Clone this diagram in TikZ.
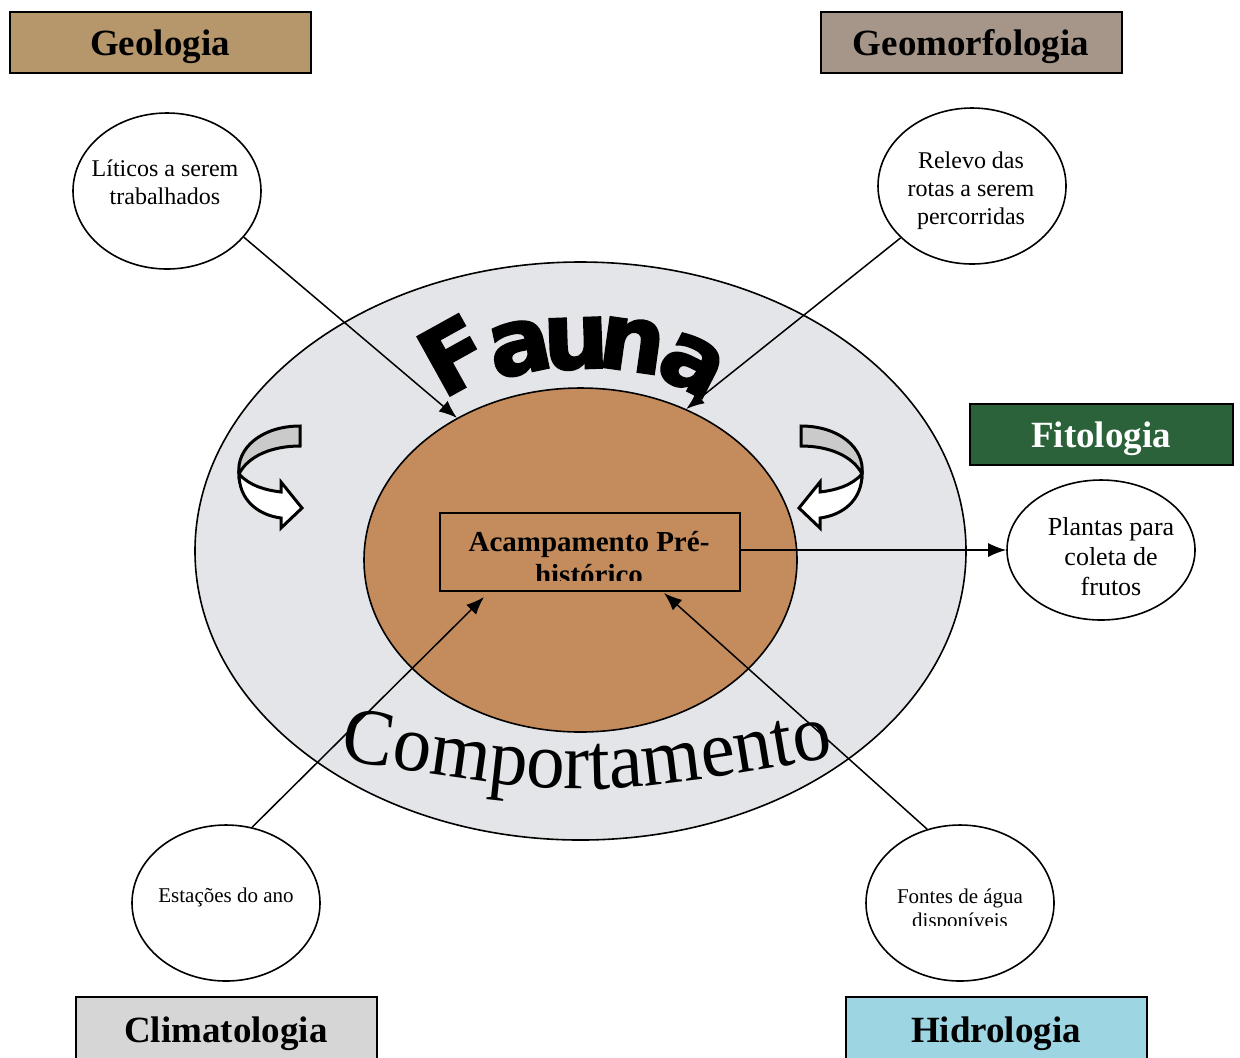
\documentclass[tikz,border=0pt]{standalone}
\usepackage{fontspec}
\setmainfont{Liberation Serif}
\newfontfamily\faunafont[FakeBold=2.5]{DejaVu Sans}
\newfontfamily\compfont[FakeStretch=0.96]{Liberation Serif}
\usetikzlibrary{shapes.geometric,arrows.meta,decorations.text}
\definecolor{marble}{HTML}{E4E5E8}
\definecolor{cork}{HTML}{C48B5C}
\definecolor{geocol}{HTML}{B6976B}
\definecolor{geomcol}{HTML}{A59689}
\definecolor{fitocol}{HTML}{2C6239}
\definecolor{climcol}{HTML}{D6D6D6}
\definecolor{hidrocol}{HTML}{9DD5E2}
\definecolor{curvgray}{HTML}{CACACA}
\tikzset{
  bubble/.style={ellipse, draw, line width=0.8pt, fill=white, minimum width=94pt, minimum height=78pt, inner sep=0pt},
  titlebox/.style={draw, line width=1pt, minimum width=150.5pt, minimum height=30.5pt, inner sep=0pt},
  titletext/.style={inner sep=0pt, font=\bfseries\fontsize{18.5}{20}\selectfont},
  btext/.style={align=center, inner sep=0pt},
  conn/.style={line width=0.75pt, -{Latex[length=9pt,width=7pt]}},
  uarrow/.style={line width=1.5pt, line join=miter},
  fauna/.style={inner sep=0pt, font=\faunafont\bfseries\fontsize{46}{46}\selectfont}
}
\begin{document}
\begin{tikzpicture}[x=0.5pt,y=-0.5pt]
\clip (0,0) rectangle (1240,1057);
\fill[white] (0,0) rectangle (1240,1057);

% ellipses
\node[ellipse, draw, line width=0.8pt, fill=marble, minimum width=385.5pt, minimum height=289pt, inner sep=0pt] (outer) at (580.5,551) {};
\node[ellipse, draw, line width=0.8pt, fill=cork, minimum width=216.5pt, minimum height=172pt, inner sep=0pt] (camp) at (580.5,560) {};

% Fauna
\node[fauna, rotate=29] (f1) at (454,355) {F};
\node[fauna, rotate=12] (f2) at (520,348) {a};
\node[fauna, rotate=2] (f3) at (576,344) {u};
\node[fauna, rotate=-8] (f4) at (632,345) {n};
\node[fauna, rotate=-27] (f5) at (692,365) {a};

% Comportamento
\path[decorate, decoration={text along path, text={|\compfont\fontsize{40}{40}\selectfont|Comportamento}, text align=center}]
  (326,757) .. controls (587,800) .. (848,755);

% curved arrows (left)
\filldraw[uarrow, fill=curvgray] (300,426) -- (300,446) .. controls (272,446) and (248,456) .. (239,474)
   .. controls (236,448) and (262,426) .. (300,426) -- cycle;
\filldraw[uarrow, fill=white] (239,474) .. controls (250,486) and (265,490) .. (281,492) -- (281,482) -- (302,508)
   -- (281,528) -- (281,518) .. controls (258,515) and (239,500) .. (239,474) -- cycle;
% curved arrows (right, mirrored)
\begin{scope}[shift={(1101,0)}, xscale=-1]
\filldraw[uarrow, fill=curvgray] (300,426) -- (300,446) .. controls (272,446) and (248,456) .. (239,474)
   .. controls (236,448) and (262,426) .. (300,426) -- cycle;
\filldraw[uarrow, fill=white] (239,474) .. controls (250,486) and (265,490) .. (281,492) -- (281,482) -- (302,508)
   -- (281,528) -- (281,518) .. controls (258,515) and (239,500) .. (239,474) -- cycle;
\end{scope}

% central rectangle
\node[draw, line width=0.75pt, minimum width=150pt, minimum height=39pt, inner sep=0pt] (acamp) at (590,552) {};
\begin{scope}
\clip (441,514) rectangle (739,580);
\node[btext, font=\bfseries\fontsize{14.5}{16.5}\selectfont] (acampT) at (589,558) {Acampamento Pré-\\histórico};
\end{scope}

% bubbles
\node[bubble] (lit) at (167,191) {};
\node[btext, font=\fontsize{12}{14}\selectfont] (litT) at (165,182) {Líticos a serem\\trabalhados};
\node[bubble] (rel) at (972,186) {};
\node[btext, font=\fontsize{12}{14}\selectfont] (relT) at (971,191) {Relevo das\\rotas a serem\\percorridas};
\node[bubble, minimum height=70pt] (plantas) at (1101,550) {};
\node[btext, font=\fontsize{13}{15}\selectfont] (plantasT) at (1111,557) {Plantas para\\coleta de\\frutos};
\node[bubble] (est) at (226,903) {};
\node[btext, font=\fontsize{10.5}{12}\selectfont] (estT) at (226,897) {Estações do ano};
\node[bubble] (fon) at (960,903) {};
\begin{scope}
\clip (866,826) rectangle (1054,925);
\node[btext, font=\fontsize{10.5}{12}\selectfont] (fonT) at (960,910) {Fontes de água\\disponíveis};
\end{scope}

% connectors
\coordinate (e4) at (484,597);
\coordinate (e5) at (664,593);
\draw[conn] (lit.-31) -- (camp.131.5);
\draw[conn] (rel.216) -- (camp.55);
\draw[conn] (acamp.east |- plantas.west) -- (plantas.west);
\draw[conn] (est.71) -- (e4);
\draw[conn] (fon.114) -- (e5);

% title boxes
\node[titlebox, fill=geocol] (geo) at (160.5,42.5) {};
\node[titletext] (geoT) at (160,47) {Geologia};
\node[titlebox, fill=geomcol] (geom) at (971.5,42.5) {};
\node[titletext] (geomT) at (971,47) {Geomorfologia};
\node[titlebox, fill=fitocol, minimum width=131.5pt] (fito) at (1101.5,434.5) {};
\node[titletext, text=white] (fitoT) at (1101,439) {Fitologia};
\node[titlebox, fill=climcol, minimum height=33pt] (clim) at (226,1030) {};
\node[titletext] (climT) at (226,1034) {Climatologia};
\node[titlebox, fill=hidrocol, minimum height=33pt] (hidro) at (996,1030) {};
\node[titletext] (hidroT) at (996,1034) {Hidrologia};
\end{tikzpicture}
\end{document}
